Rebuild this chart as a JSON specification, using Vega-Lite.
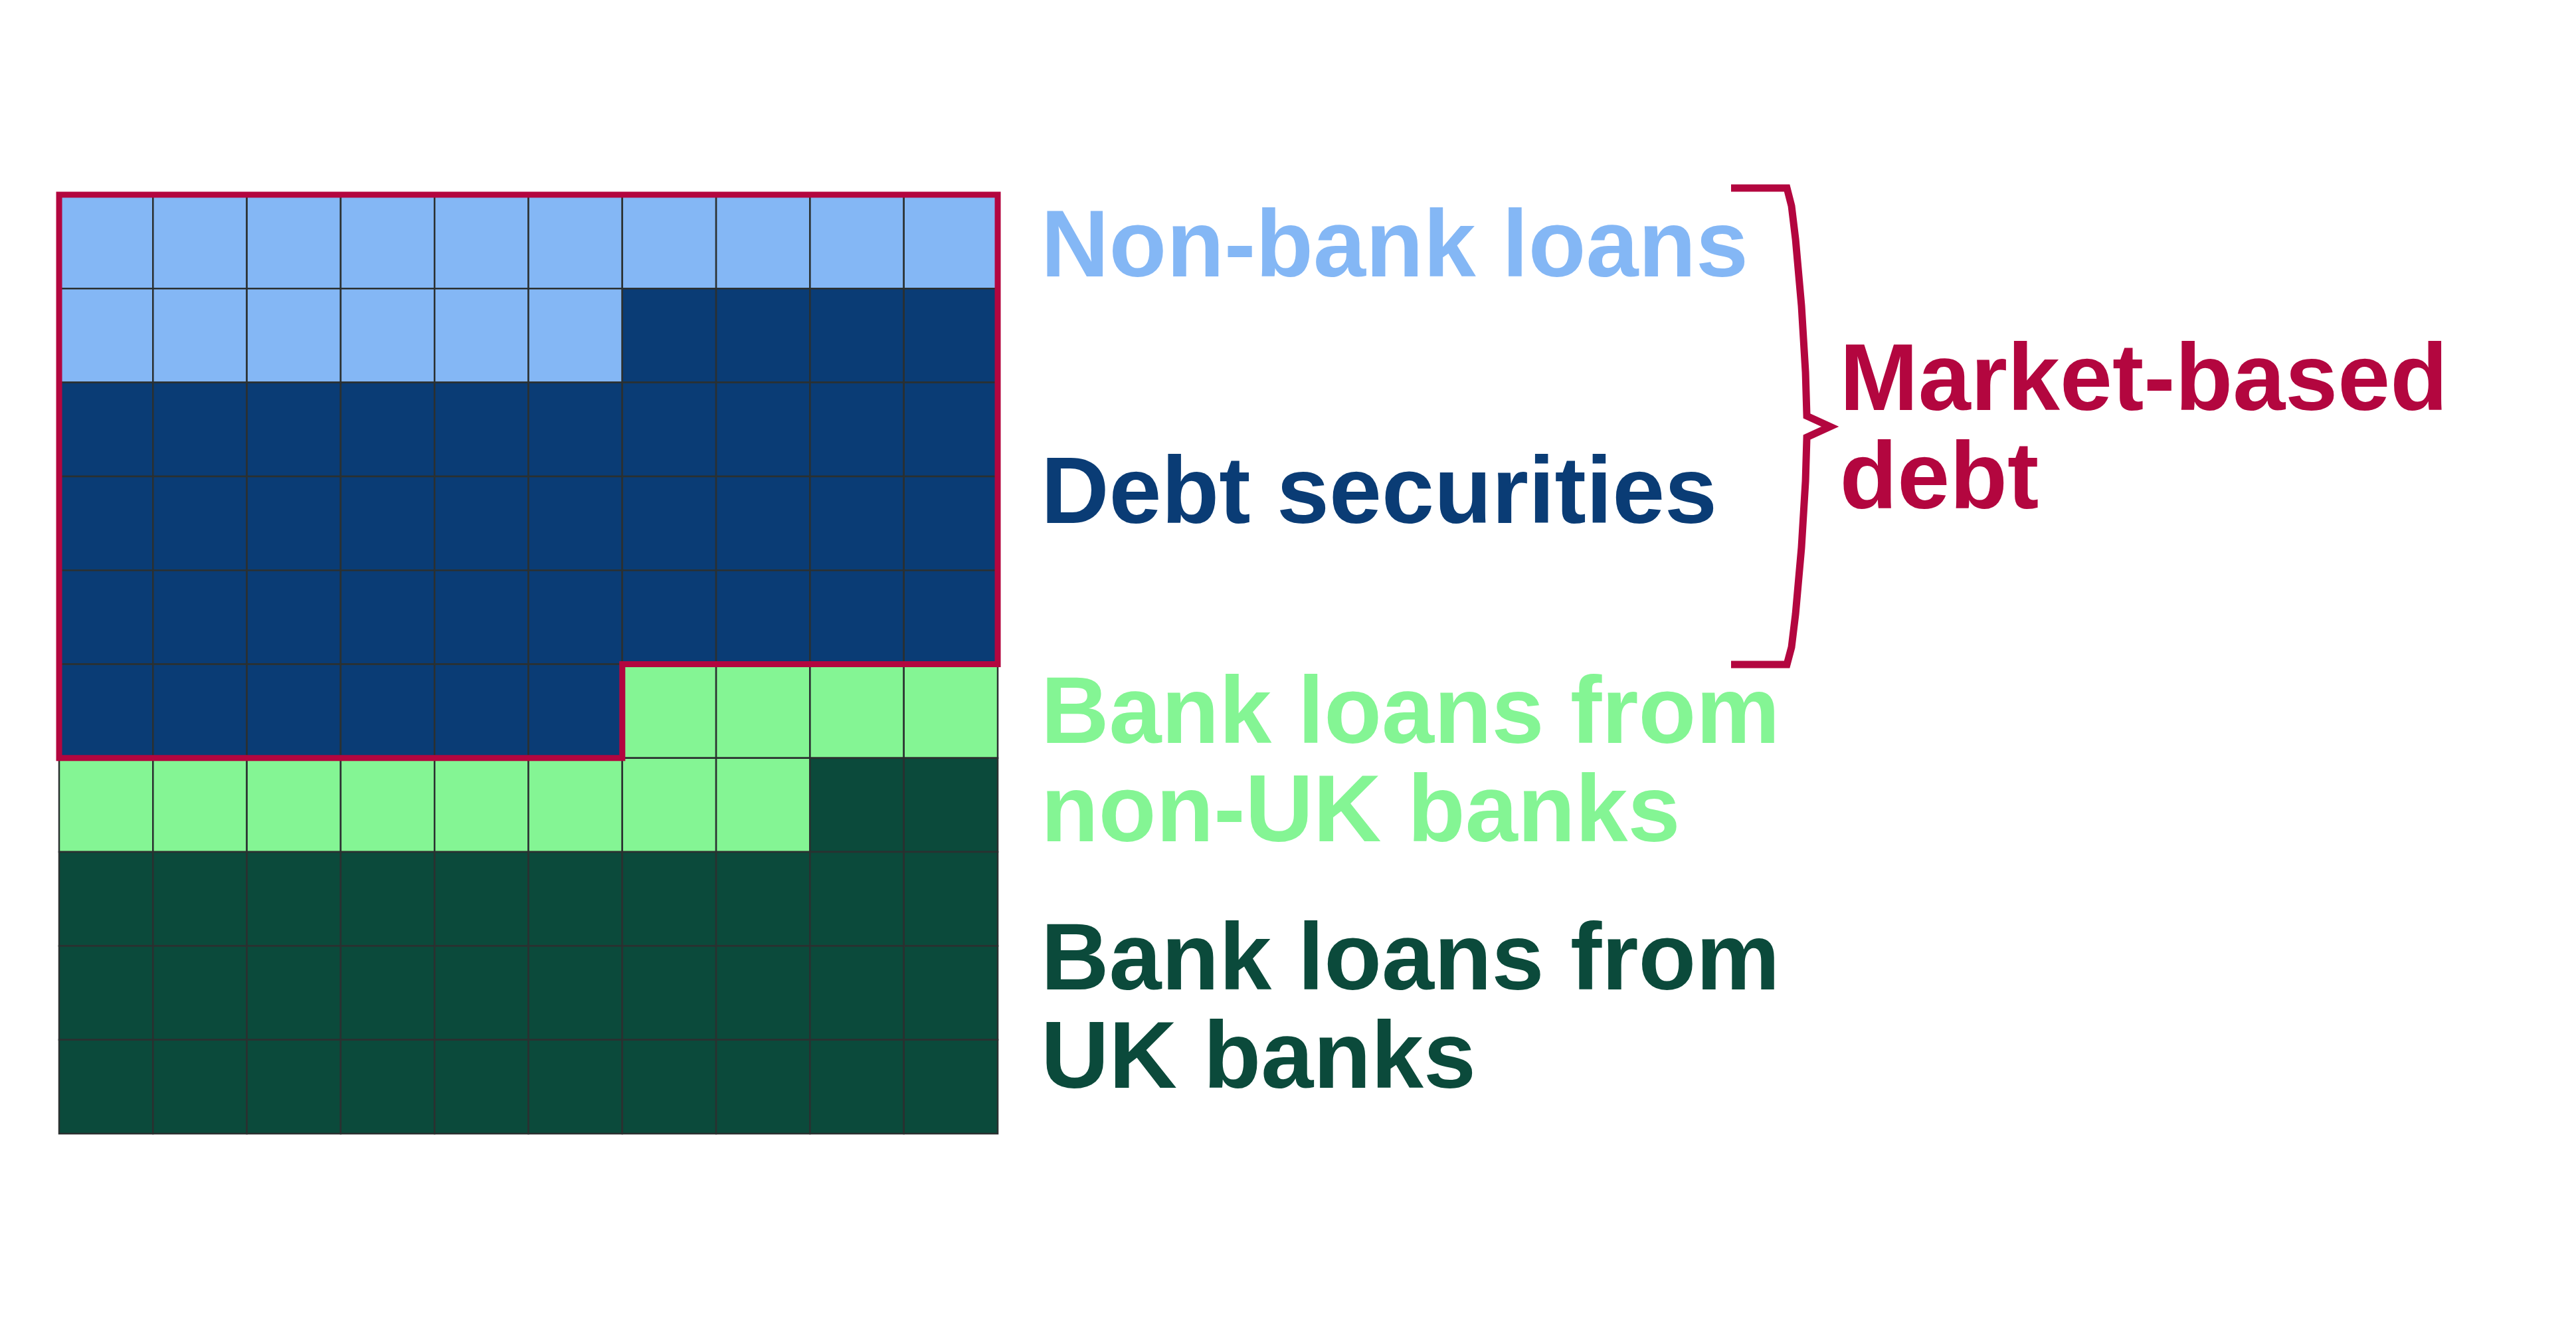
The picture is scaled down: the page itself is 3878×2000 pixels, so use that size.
{
  "$schema": "https://vega.github.io/schema/vega-lite/v6.json",
  "width": 3878,
  "height": 2000,
  "autosize": {"type": "fit", "contains": "padding"},
  "padding": 0,
  "background": "white",
  "config": {"view": {"stroke": null}},
  "datasets": {
    "cells": [
      {"col": 0, "row": 0, "category": "Non-bank loans"}, {"col": 1, "row": 0, "category": "Non-bank loans"},
      {"col": 2, "row": 0, "category": "Non-bank loans"}, {"col": 3, "row": 0, "category": "Non-bank loans"},
      {"col": 4, "row": 0, "category": "Non-bank loans"}, {"col": 5, "row": 0, "category": "Non-bank loans"},
      {"col": 6, "row": 0, "category": "Non-bank loans"}, {"col": 7, "row": 0, "category": "Non-bank loans"},
      {"col": 8, "row": 0, "category": "Non-bank loans"}, {"col": 9, "row": 0, "category": "Non-bank loans"},
      {"col": 0, "row": 1, "category": "Non-bank loans"}, {"col": 1, "row": 1, "category": "Non-bank loans"},
      {"col": 2, "row": 1, "category": "Non-bank loans"}, {"col": 3, "row": 1, "category": "Non-bank loans"},
      {"col": 4, "row": 1, "category": "Non-bank loans"}, {"col": 5, "row": 1, "category": "Non-bank loans"},
      {"col": 6, "row": 1, "category": "Debt securities"}, {"col": 7, "row": 1, "category": "Debt securities"},
      {"col": 8, "row": 1, "category": "Debt securities"}, {"col": 9, "row": 1, "category": "Debt securities"},
      {"col": 0, "row": 2, "category": "Debt securities"}, {"col": 1, "row": 2, "category": "Debt securities"},
      {"col": 2, "row": 2, "category": "Debt securities"}, {"col": 3, "row": 2, "category": "Debt securities"},
      {"col": 4, "row": 2, "category": "Debt securities"}, {"col": 5, "row": 2, "category": "Debt securities"},
      {"col": 6, "row": 2, "category": "Debt securities"}, {"col": 7, "row": 2, "category": "Debt securities"},
      {"col": 8, "row": 2, "category": "Debt securities"}, {"col": 9, "row": 2, "category": "Debt securities"},
      {"col": 0, "row": 3, "category": "Debt securities"}, {"col": 1, "row": 3, "category": "Debt securities"},
      {"col": 2, "row": 3, "category": "Debt securities"}, {"col": 3, "row": 3, "category": "Debt securities"},
      {"col": 4, "row": 3, "category": "Debt securities"}, {"col": 5, "row": 3, "category": "Debt securities"},
      {"col": 6, "row": 3, "category": "Debt securities"}, {"col": 7, "row": 3, "category": "Debt securities"},
      {"col": 8, "row": 3, "category": "Debt securities"}, {"col": 9, "row": 3, "category": "Debt securities"},
      {"col": 0, "row": 4, "category": "Debt securities"}, {"col": 1, "row": 4, "category": "Debt securities"},
      {"col": 2, "row": 4, "category": "Debt securities"}, {"col": 3, "row": 4, "category": "Debt securities"},
      {"col": 4, "row": 4, "category": "Debt securities"}, {"col": 5, "row": 4, "category": "Debt securities"},
      {"col": 6, "row": 4, "category": "Debt securities"}, {"col": 7, "row": 4, "category": "Debt securities"},
      {"col": 8, "row": 4, "category": "Debt securities"}, {"col": 9, "row": 4, "category": "Debt securities"},
      {"col": 0, "row": 5, "category": "Debt securities"}, {"col": 1, "row": 5, "category": "Debt securities"},
      {"col": 2, "row": 5, "category": "Debt securities"}, {"col": 3, "row": 5, "category": "Debt securities"},
      {"col": 4, "row": 5, "category": "Debt securities"}, {"col": 5, "row": 5, "category": "Debt securities"},
      {"col": 6, "row": 5, "category": "Bank loans from non-UK banks"}, {"col": 7, "row": 5, "category": "Bank loans from non-UK banks"},
      {"col": 8, "row": 5, "category": "Bank loans from non-UK banks"}, {"col": 9, "row": 5, "category": "Bank loans from non-UK banks"},
      {"col": 0, "row": 6, "category": "Bank loans from non-UK banks"}, {"col": 1, "row": 6, "category": "Bank loans from non-UK banks"},
      {"col": 2, "row": 6, "category": "Bank loans from non-UK banks"}, {"col": 3, "row": 6, "category": "Bank loans from non-UK banks"},
      {"col": 4, "row": 6, "category": "Bank loans from non-UK banks"}, {"col": 5, "row": 6, "category": "Bank loans from non-UK banks"},
      {"col": 6, "row": 6, "category": "Bank loans from non-UK banks"}, {"col": 7, "row": 6, "category": "Bank loans from non-UK banks"},
      {"col": 8, "row": 6, "category": "Bank loans from UK banks"}, {"col": 9, "row": 6, "category": "Bank loans from UK banks"},
      {"col": 0, "row": 7, "category": "Bank loans from UK banks"}, {"col": 1, "row": 7, "category": "Bank loans from UK banks"},
      {"col": 2, "row": 7, "category": "Bank loans from UK banks"}, {"col": 3, "row": 7, "category": "Bank loans from UK banks"},
      {"col": 4, "row": 7, "category": "Bank loans from UK banks"}, {"col": 5, "row": 7, "category": "Bank loans from UK banks"},
      {"col": 6, "row": 7, "category": "Bank loans from UK banks"}, {"col": 7, "row": 7, "category": "Bank loans from UK banks"},
      {"col": 8, "row": 7, "category": "Bank loans from UK banks"}, {"col": 9, "row": 7, "category": "Bank loans from UK banks"},
      {"col": 0, "row": 8, "category": "Bank loans from UK banks"}, {"col": 1, "row": 8, "category": "Bank loans from UK banks"},
      {"col": 2, "row": 8, "category": "Bank loans from UK banks"}, {"col": 3, "row": 8, "category": "Bank loans from UK banks"},
      {"col": 4, "row": 8, "category": "Bank loans from UK banks"}, {"col": 5, "row": 8, "category": "Bank loans from UK banks"},
      {"col": 6, "row": 8, "category": "Bank loans from UK banks"}, {"col": 7, "row": 8, "category": "Bank loans from UK banks"},
      {"col": 8, "row": 8, "category": "Bank loans from UK banks"}, {"col": 9, "row": 8, "category": "Bank loans from UK banks"},
      {"col": 0, "row": 9, "category": "Bank loans from UK banks"}, {"col": 1, "row": 9, "category": "Bank loans from UK banks"},
      {"col": 2, "row": 9, "category": "Bank loans from UK banks"}, {"col": 3, "row": 9, "category": "Bank loans from UK banks"},
      {"col": 4, "row": 9, "category": "Bank loans from UK banks"}, {"col": 5, "row": 9, "category": "Bank loans from UK banks"},
      {"col": 6, "row": 9, "category": "Bank loans from UK banks"}, {"col": 7, "row": 9, "category": "Bank loans from UK banks"},
      {"col": 8, "row": 9, "category": "Bank loans from UK banks"}, {"col": 9, "row": 9, "category": "Bank loans from UK banks"}
    ],
    "outline": [
      {"i": 0, "x": 0, "y": 0},
      {"i": 1, "x": 10, "y": 0},
      {"i": 2, "x": 10, "y": 5},
      {"i": 3, "x": 6, "y": 5},
      {"i": 4, "x": 6, "y": 6},
      {"i": 5, "x": 0, "y": 6},
      {"i": 6, "x": 0, "y": 0}
    ],
    "brace": [
      {"i": 0, "x": 17.813, "y": -0.071},
      {"i": 1, "x": 18.408, "y": -0.071},
      {"i": 2, "x": 18.457, "y": 0.12},
      {"i": 3, "x": 18.5, "y": 0.474},
      {"i": 4, "x": 18.563, "y": 1.182},
      {"i": 5, "x": 18.606, "y": 1.89},
      {"i": 6, "x": 18.62, "y": 2.357},
      {"i": 7, "x": 18.868, "y": 2.47},
      {"i": 8, "x": 18.62, "y": 2.583},
      {"i": 9, "x": 18.606, "y": 3.05},
      {"i": 10, "x": 18.563, "y": 3.758},
      {"i": 11, "x": 18.5, "y": 4.466},
      {"i": 12, "x": 18.457, "y": 4.82},
      {"i": 13, "x": 18.408, "y": 5.003},
      {"i": 14, "x": 17.813, "y": 5.003}
    ],
    "labels": [
      {"label": "Non-bank loans", "category": "Non-bank loans", "x": 10.46, "y": 0.87},
      {"label": "Debt securities", "category": "Debt securities", "x": 10.46, "y": 3.496},
      {"label": "Bank loans from", "category": "Bank loans from non-UK banks", "x": 10.46, "y": 5.839},
      {"label": "non-UK banks", "category": "Bank loans from non-UK banks", "x": 10.46, "y": 6.886},
      {"label": "Bank loans from", "category": "Bank loans from UK banks", "x": 10.46, "y": 8.464},
      {"label": "UK banks", "category": "Bank loans from UK banks", "x": 10.46, "y": 9.512},
      {"label": "Market-based", "category": "Market-based debt", "x": 18.97, "y": 2.293},
      {"label": "debt", "category": "Market-based debt", "x": 18.97, "y": 3.34}
    ]
  },
  "layer": [
    {
      "data": {"name": "cells"},
      "mark": {"type": "rect", "stroke": "#2b3030", "strokeWidth": 2.5},
      "encoding": {
        "x": {
          "field": "col", "type": "ordinal", "axis": null,
          "scale": {"domain": [0, 1, 2, 3, 4, 5, 6, 7, 8, 9], "range": [89, 1502], "paddingInner": 0, "paddingOuter": 0}
        },
        "y": {
          "field": "row", "type": "ordinal", "axis": null,
          "scale": {"domain": [0, 1, 2, 3, 4, 5, 6, 7, 8, 9], "range": [293, 1706], "paddingInner": 0, "paddingOuter": 0}
        },
        "color": {
          "field": "category", "type": "nominal", "legend": null,
          "scale": {
            "domain": ["Non-bank loans", "Debt securities", "Bank loans from non-UK banks", "Bank loans from UK banks", "Market-based debt"],
            "range": ["#84b7f5", "#0a3c75", "#84f594", "#0b4a3b", "#b3063f"]
          }
        }
      }
    },
    {
      "data": {"name": "outline"},
      "mark": {"type": "line", "color": "#b3063f", "strokeWidth": 9, "strokeJoin": "miter", "strokeCap": "square"},
      "encoding": {
        "x": {"field": "x", "type": "quantitative", "axis": null, "scale": {"domain": [-0.63, 26.815], "nice": false, "zero": false}},
        "y": {"field": "y", "type": "quantitative", "axis": null, "scale": {"domain": [-2.0736, 12.081], "reverse": true, "nice": false, "zero": false}},
        "order": {"field": "i", "type": "quantitative"}
      }
    },
    {
      "data": {"name": "brace"},
      "mark": {"type": "line", "color": "#b3063f", "strokeWidth": 11, "strokeJoin": "miter"},
      "encoding": {
        "x": {"field": "x", "type": "quantitative", "axis": null, "scale": {"domain": [-0.63, 26.815], "nice": false, "zero": false}},
        "y": {"field": "y", "type": "quantitative", "axis": null, "scale": {"domain": [-2.0736, 12.081], "reverse": true, "nice": false, "zero": false}},
        "order": {"field": "i", "type": "quantitative"}
      }
    },
    {
      "data": {"name": "labels"},
      "mark": {"type": "text", "align": "left", "baseline": "alphabetic", "font": "Liberation Sans", "fontWeight": "bold", "fontSize": 142},
      "encoding": {
        "x": {"field": "x", "type": "quantitative", "axis": null, "scale": {"domain": [-0.63, 26.815], "nice": false, "zero": false}},
        "y": {"field": "y", "type": "quantitative", "axis": null, "scale": {"domain": [-2.0736, 12.081], "reverse": true, "nice": false, "zero": false}},
        "text": {"field": "label", "type": "nominal"},
        "color": {"field": "category", "type": "nominal", "legend": null}
      }
    }
  ],
  "resolve": {"scale": {"x": "independent", "y": "independent"}}
}
